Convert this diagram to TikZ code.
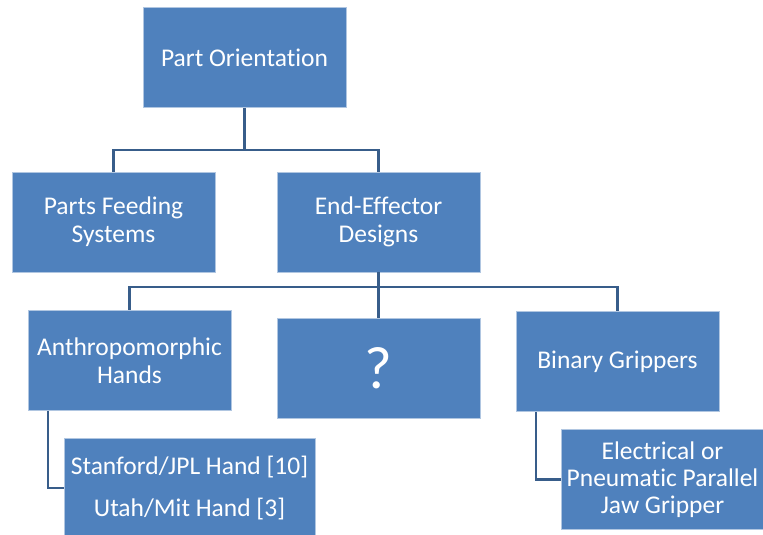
\documentclass[tikz,border=0pt]{standalone}
\usepackage{fontspec}
\setmainfont{Carlito}[Ligatures=NoCommon]
\usetikzlibrary{positioning}
\definecolor{boxblue}{RGB}{79,129,189}
\definecolor{linkblue}{RGB}{56,93,138}
\tikzset{
  blk/.style={fill=boxblue,draw=white!55!boxblue,line width=0.6pt,
    minimum width=203pt,minimum height=100pt,inner sep=2pt,align=center,
    text=white,font=\fontsize{25.5}{28}\selectfont},
  link/.style={draw=linkblue,line width=2.2pt},
}
\newcommand{\tbox}[4]{\node[blk] (#1) at (#2,#3) {#4};}

\begin{document}
\begin{tikzpicture}[x=1pt,y=-1pt]
        \useasboundingbox (0,0) rectangle (763,535);
        \clip (0,0) rectangle (763,535);
        % top two levels
        \tbox{root}{244.5}{57.5}{Part Orientation}
        \tbox{parts}{113.5}{222}{Parts Feeding\\Systems}
        \tbox{endeff}{378.5}{222}{End-Effector\\Designs}
        % third level
        \tbox{anthro}{129.5}{360.5}{Anthropomorphic\\Hands}
        \node[blk,font=\fontsize{60}{62}\selectfont] (unknown) at (378.5,368) {?};
        \tbox{binary}{617.5}{361.5}{Binary Grippers}
        % leaves
        \node[blk,minimum width=251pt] (stanford) at (189.5,488)
          {Stanford/JPL Hand [10]\\[14pt]Utah/Mit Hand [3]};
        \node[blk,font=\fontsize{25.5}{27}\selectfont] (jaw) at (662.5,479.5)
          {Electrical or\\Pneumatic Parallel\\Jaw Gripper};
        % connectors
        \path (root.south) ++(0,42.5) coordinate (busA);
        \draw[link] (root.south) -- (busA) -| (parts.north);
        \draw[link] (busA) -| (endeff.north);
        \path (endeff.south) ++(0,15) coordinate (busB);
        \draw[link] (endeff.south) -- (unknown.north);
        \draw[link] (busB) -| (anthro.north);
        \draw[link] (busB) -| (binary.north);
        \draw[link] (anthro.south west) ++(20,0) |- (stanford.west);
        \draw[link] (binary.south west) ++(20,0) |- (jaw.west);
      \end{tikzpicture}
\end{document}
